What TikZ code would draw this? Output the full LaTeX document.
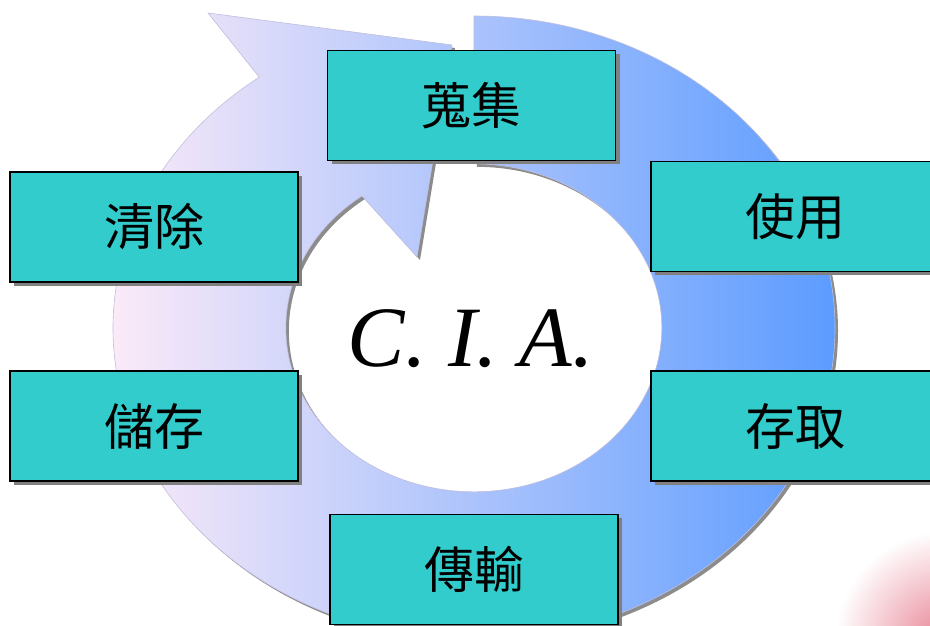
\documentclass[tikz,border=0pt]{standalone}
\usepackage{fontspec}
\setmainfont{Liberation Serif}
\newfontfamily\cjk{Noto Sans CJK TC}
\usetikzlibrary{shadows}
\definecolor{cycTeal}{RGB}{51,204,204}
\definecolor{cycLeft}{RGB}{251,234,248}
\definecolor{cycMid}{RGB}{165,198,246}
\definecolor{cycRight}{RGB}{92,156,255}
\definecolor{cycEdge}{RGB}{192,190,222}
\definecolor{cycGlow}{RGB}{232,130,148}
% ring with arrow head, centre (474,298)
\newcommand\cycring{(474,610) arc[start angle=90, end angle=-233.5, x radius=361, y radius=312]
  -- (208,613) -- (452,581) -- (417,369) -- (362,430)
  arc[start angle=-233.5, end angle=90, x radius=188, y radius=164] -- cycle}

\begin{document}
\begin{tikzpicture}[x=1pt, y=1pt,
stagebox/.style={draw=black, line width=1.2pt, fill=cycTeal, minimum width=288pt, minimum height=110pt, inner sep=0pt,
  font=\cjk\fontsize{50}{50}\selectfont,
  drop shadow={shadow xshift=4pt, shadow yshift=-4pt, fill=black!50, opacity=1}}
]
    \useasboundingbox (0,0) rectangle (930,626);
    \fill[white] (0,0) rectangle (930,626);
    \begin{scope}
    \clip (0,0) rectangle (930,626);
    \shade[inner color=cycGlow, outer color=white] (945,-15) circle (110);
    \end{scope}

    \fill[black!45, shift={(3,-3)}] \cycring;
    \path[draw=cycEdge, line width=0.6pt, left color=cycLeft, middle color=cycMid, right color=cycRight] \cycring;

    \node [stagebox] (collect) at (471.5,520.5) {蒐集};
    \node [stagebox] (use)     at (795,409.5)   {使用};
    \node [stagebox] (access)  at (795,200)     {存取};
    \node [stagebox] (send)    at (474,56.5)    {傳輸};
    \node [stagebox] (store)   at (154,200)     {儲存};
    \node [stagebox] (clear)   at (154,399)     {清除};

    \node [anchor=base, font=\itshape\fontsize{86}{86}\selectfont] (cia) at (471,259) {C. I. A.};
\end{tikzpicture}
\end{document}
